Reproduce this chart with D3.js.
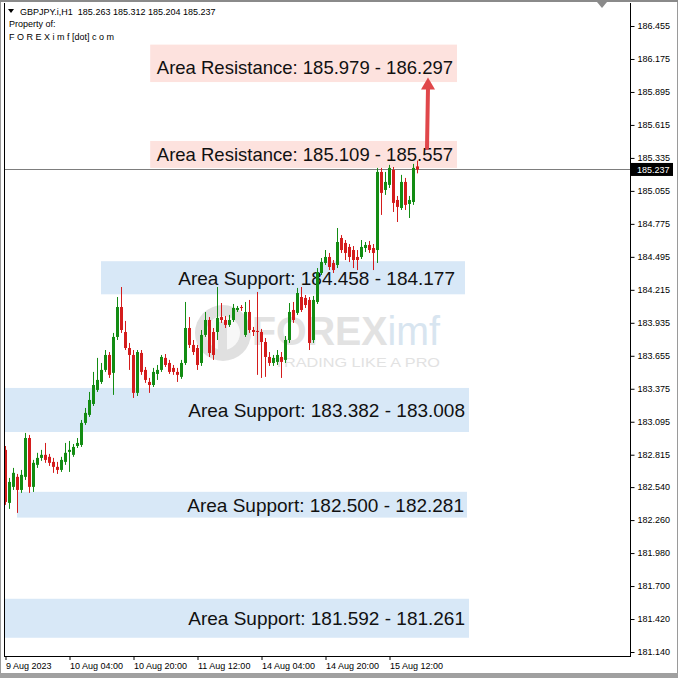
<!DOCTYPE html>
<html><head><meta charset="utf-8">
<script src="https://cdn.jsdelivr.net/npm/d3@7"></script>
<style>html,body{margin:0;padding:0;background:#fff;}svg{display:block;}</style>
</head><body>
<script>
// ---------- data ----------
const symbol = "GBPJPY.i,H1";
const lastQuote = ["185.263", "185.312", "185.204", "185.237"];
const openP = [182.856,182.406,182.542,182.627,182.516,182.627,182.957,182.542,182.729,182.788,
182.814,182.797,182.754,182.712,182.686,182.754,182.839,182.814,182.889,182.898,
183.085,183.153,183.246,183.365,183.433,183.535,183.662,183.510,183.815,184.069,
183.857,183.721,183.662,183.340,183.679,183.535,183.433,183.407,183.501,183.535,
183.637,183.594,183.552,183.518,183.476,183.594,183.891,183.747,183.721,183.594,
183.832,183.959,183.857,183.857,183.984,183.959,183.917,183.959,184.044,184.069,
183.832,184.027,183.874,183.866,183.857,183.772,183.645,183.594,183.603,183.645,
183.620,183.789,184.044,184.019,184.154,184.146,184.129,183.789,184.112,184.358,
184.443,184.494,184.443,184.426,184.655,184.613,184.579,184.553,184.494,184.494,
184.570,184.596,184.570,184.553,185.216,185.063,185.106,185.233,184.978,184.910,
185.131,184.944,184.961,185.263];
const closeP = [182.414,182.584,182.661,182.516,182.644,182.957,182.542,182.746,182.788,182.814,
182.771,182.746,182.712,182.686,182.771,182.831,182.856,182.881,182.915,183.085,
183.170,183.280,183.407,183.450,183.535,183.662,183.493,183.815,184.069,183.874,
183.721,183.662,183.340,183.687,183.518,183.450,183.407,183.518,183.535,183.645,
183.577,183.518,183.518,183.493,183.594,183.891,183.747,183.687,183.577,183.832,
183.959,183.679,183.662,183.976,183.959,183.917,183.959,184.061,184.061,184.061,
184.027,183.874,183.857,183.857,183.772,183.645,183.594,183.637,183.662,183.603,
183.789,184.027,183.959,184.188,184.044,184.086,183.764,184.129,184.366,184.451,
184.494,184.409,184.383,184.621,184.553,184.528,184.494,184.468,184.468,184.579,
184.596,184.553,184.528,185.216,185.038,185.131,185.250,184.953,184.919,185.131,
184.936,184.978,185.250,185.237];
const highP = [182.889,182.618,182.703,182.652,182.686,183.000,182.983,182.771,182.831,182.856,
182.915,182.822,182.788,182.754,182.797,182.915,182.932,182.906,182.957,183.110,
183.212,183.348,183.518,183.637,183.594,183.704,183.687,183.849,184.154,184.239,
183.951,183.764,183.704,183.704,183.704,183.560,183.467,183.552,183.577,183.662,
183.670,183.620,183.577,183.552,183.620,184.112,183.984,183.789,183.747,183.874,
184.027,183.984,183.891,184.239,184.103,183.993,184.002,184.095,184.078,184.086,
184.112,184.129,183.900,184.197,183.883,183.806,183.687,183.662,183.704,183.687,
183.823,184.103,184.112,184.231,184.239,184.171,184.154,184.163,184.400,184.485,
184.553,184.528,184.468,184.740,184.680,184.638,184.604,184.587,184.553,184.638,
184.621,184.630,184.604,185.250,185.250,185.216,185.276,185.258,185.012,185.191,
185.165,185.012,185.284,185.312];
const lowP = [182.389,182.355,182.516,182.321,182.491,182.601,182.491,182.499,182.703,182.763,
182.746,182.720,182.661,182.652,182.669,182.729,182.669,182.797,182.872,182.881,
183.068,183.136,183.229,183.348,183.416,183.518,183.467,183.323,183.789,183.849,
183.704,183.535,183.297,183.314,183.493,183.425,183.340,183.390,183.450,183.518,
183.560,183.501,183.493,183.433,183.459,183.577,183.721,183.662,183.535,183.569,
183.815,183.645,183.620,183.789,183.934,183.891,183.900,183.942,184.027,184.036,
183.815,183.849,183.823,183.493,183.467,183.476,183.569,183.569,183.577,183.467,
183.594,183.764,183.934,184.002,184.027,184.061,183.704,183.764,184.095,184.341,
184.426,184.383,184.358,184.400,184.528,184.468,184.451,184.400,184.383,184.477,
184.536,184.528,184.383,184.443,184.851,185.021,185.080,184.876,184.791,184.893,
184.893,184.825,184.936,185.204];
const priceTicks = [186.455,186.175,185.895,185.615,185.335,185.055,184.775,184.495,184.215,183.935,
183.655,183.375,183.095,182.815,182.540,182.260,181.980,181.700,181.420,181.140];
const priceTickLabels = ["186.455","186.175","185.895","185.615","185.335","185.055","184.775","184.495","184.215","183.935",
"183.655","183.375","183.095","182.815","182.540","182.260","181.980","181.700","181.420","181.140"];
const timeTickIdx = [0,16,32,48,64,80,96];
const timeTickLabels = ["9 Aug 2023","10 Aug 04:00","10 Aug 20:00","11 Aug 12:00","14 Aug 04:00","14 Aug 20:00","15 Aug 12:00"];
const zoneKind = ["res","res","sup","sup","sup","sup"];
const zoneLow  = [185.979, 185.250, 184.177, 183.008, 182.281, 181.261];
const zoneHigh = [186.297, 185.479, 184.458, 183.382, 182.500, 181.592];
const zoneText = ["Area Resistance: 185.979 - 186.297","Area Resistance: 185.109 - 185.557",
  "Area Support: 184.458 - 184.177","Area Support: 183.382 - 183.008",
  "Area Support: 182.500 - 182.281","Area Support: 181.592 - 181.261"];
const lastPrice = 185.237;
const arrowFrom = 185.420, arrowTo = 186.000;

// ---------- layout ----------
const W = 678, H = 678;
const plot = {left: 4, right: 630, top: 3, bottom: 656};
const zoneStart = [36.3, 36.3, 24, 0, 3, 0];
const zoneEnd   = [113, 113, 115, 116, 115.5, 116];
const zoneTextPad = [4, 4, 10, 4, 3, 4];
const zoneTextDy = [11, 7, 7, 7, 7, 7];
const FONT = "Liberation Sans, Arial, sans-serif";

const svg = d3.select("body").append("svg").attr("width", W).attr("height", H);
const x = d3.scaleLinear().domain([0, 103]).range([5, 417]);
const y = d3.scaleLinear().domain([181.140, 186.455]).range([652, 26]);

// window chrome
svg.append("rect").attr("x",0).attr("y",0).attr("width",W).attr("height",H).attr("fill","#fff");
svg.append("rect").attr("x",0.5).attr("y",0.5).attr("width",W-1).attr("height",H-1)
  .attr("fill","none").attr("stroke","#9a9a9a");
svg.append("rect").attr("x",0).attr("y",673).attr("width",W).attr("height",5).attr("fill","#a0a0a0");
svg.append("rect").attr("x",0).attr("y",0).attr("width",W).attr("height",2).attr("fill","#8a8a8a");
svg.append("path").attr("d","M597,2 L607,2 L602,8 Z").attr("fill","#8a8a8a");

// zones
const zc = {res:"#fde2de", sup:"#d8e8f7"};
zoneKind.forEach((k,i)=>{
  const x0 = x(zoneStart[i]), x1 = x(zoneEnd[i]);
  svg.append("rect").attr("x",x0).attr("y",y(zoneHigh[i])).attr("width",x1-x0)
    .attr("height",y(zoneLow[i])-y(zoneHigh[i])).attr("fill",zc[k]);
});

// watermark
const wm = svg.append("g");
wm.append("circle").attr("cx",223).attr("cy",333).attr("r",28).attr("fill","#e0e0e0");
wm.append("circle").attr("cx",223).attr("cy",333).attr("r",17).attr("fill","#f7f7f7");
wm.append("rect").attr("x",218).attr("y",322).attr("width",9).attr("height",30).attr("fill","#e0e0e0");
const logo = wm.append("text").attr("x",252).attr("y",345).attr("font-family",FONT)
  .attr("font-size",40).attr("textLength",188).attr("lengthAdjust","spacingAndGlyphs");
logo.append("tspan").attr("font-weight","bold").attr("fill","#e2e2e2").text("FOREX");
logo.append("tspan").attr("fill","#d8e5f0").text("imf");
wm.append("text").attr("x",274).attr("y",367).attr("font-family",FONT)
  .attr("font-size",13).attr("fill","#e2e2e2")
  .attr("textLength",166).attr("lengthAdjust","spacingAndGlyphs").text("TRADING LIKE A PRO");

// zone labels
zoneKind.forEach((k,i)=>{
  svg.append("text").attr("x",x(zoneEnd[i]) - zoneTextPad[i])
    .attr("y",(y(zoneHigh[i])+y(zoneLow[i]))/2 + zoneTextDy[i])
    .attr("text-anchor","end").attr("font-family",FONT)
    .attr("font-size", k==="res" ? 18.5 : 19).attr("fill","#111").text(zoneText[i]);
});

// price line
svg.append("line").attr("x1",plot.left).attr("x2",plot.right)
  .attr("y1",Math.round(y(lastPrice))+0.5).attr("y2",Math.round(y(lastPrice))+0.5)
  .attr("stroke","#7d7d7d").attr("stroke-width",1);

// candles
const bull = "#138c13", bear = "#d41c1c", doji = "#000";
const idx = d3.range(openP.length);
const cg = svg.append("g");
idx.forEach(i=>{
  const o=openP[i], c=closeP[i];
  const col = c>o ? bull : (c<o ? bear : doji);
  const cx = Math.round(x(i));
  cg.append("rect").attr("x",cx).attr("y",y(highP[i])).attr("width",1)
    .attr("height",y(lowP[i])-y(highP[i])).attr("fill",col);
  const top = y(Math.max(o,c)), bot = y(Math.min(o,c));
  cg.append("rect").attr("x",cx-1).attr("y",top).attr("width",3)
    .attr("height",Math.max(1,bot-top)).attr("fill",col);
});

// arrow
const ax = 427;
svg.append("line").attr("x1",ax).attr("x2",ax+1).attr("y1",y(arrowFrom)).attr("y2",y(arrowTo)+8)
  .attr("stroke","#e0474a").attr("stroke-width",4).attr("stroke-linecap","round");
svg.append("path").attr("d",`M${ax+1-7},${y(arrowTo)+10} L${ax+1},${y(arrowTo)-2} L${ax+1+7},${y(arrowTo)+10} Z`)
  .attr("fill","#e0474a");

// frame
svg.append("line").attr("x1",plot.left+0.5).attr("x2",plot.left+0.5).attr("y1",plot.top).attr("y2",plot.bottom).attr("stroke","#000");
svg.append("line").attr("x1",plot.right+0.5).attr("x2",plot.right+0.5).attr("y1",plot.top).attr("y2",plot.bottom+1).attr("stroke","#000");
svg.append("line").attr("x1",plot.left).attr("x2",plot.right).attr("y1",plot.bottom+0.5).attr("y2",plot.bottom+0.5).attr("stroke","#000");

// price axis
const yAxis = d3.axisRight(y).tickValues(priceTicks).tickSize(4).tickPadding(3)
  .tickFormat((d,i)=>priceTickLabels[i]);
const ya = svg.append("g").attr("transform",`translate(${plot.right+0.5},0)`).call(yAxis);
ya.select(".domain").remove();
ya.selectAll("text").attr("font-family",FONT).attr("font-size",9).attr("fill","#000");
ya.selectAll("line").attr("stroke","#000");

// last price tag
const ly = y(lastPrice);
svg.append("rect").attr("x",plot.right+1).attr("y",ly-6.5).attr("width",42).attr("height",13).attr("fill","#000");
svg.append("text").attr("x",plot.right+7).attr("y",ly+3.5).attr("font-family",FONT)
  .attr("font-size",9).attr("fill","#fff").text(lastQuote[3]);

// time axis
const xAxis = d3.axisBottom(x).tickValues(timeTickIdx).tickSize(4).tickPadding(3)
  .tickFormat((d,i)=>timeTickLabels[i]);
const xa = svg.append("g").attr("transform",`translate(0.5,${plot.bottom})`).call(xAxis);
xa.select(".domain").remove();
xa.selectAll("text").attr("text-anchor","start").attr("dx",0).attr("font-family",FONT)
  .attr("font-size",9).attr("fill","#000");
xa.selectAll("line").attr("stroke","#000");

// header
svg.append("path").attr("d","M8,9 L14,9 L11,13 Z").attr("fill","#000");
svg.append("text").attr("x",20).attr("y",15).attr("font-family",FONT)
  .attr("font-size",9).attr("fill","#000").attr("xml:space","preserve")
  .text(symbol + "  " + lastQuote.join(" "));
svg.append("text").attr("x",9).attr("y",27).attr("font-family",FONT)
  .attr("font-size",9).attr("fill","#000").text("Property of:");
svg.append("text").attr("x",9).attr("y",40).attr("font-family",FONT)
  .attr("font-size",9).attr("fill","#000").text("F O R E X i m f [dot] c o m");
</script>
</body></html>
